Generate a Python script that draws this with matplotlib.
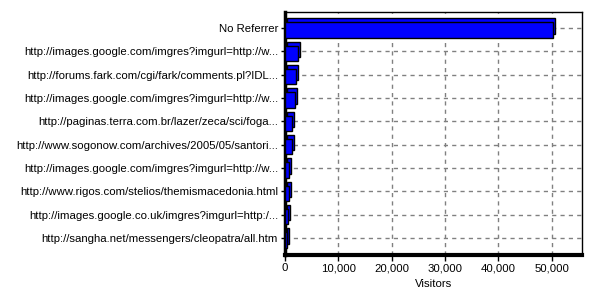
import matplotlib
matplotlib.use("Agg")
import matplotlib.pyplot as plt
import matplotlib.transforms as mtrans
from matplotlib.ticker import FuncFormatter

categories = [
    "No Referrer",
    "http://images.google.com/imgres?imgurl=http://w...",
    "http://forums.fark.com/cgi/fark/comments.pl?IDL...",
    "http://images.google.com/imgres?imgurl=http://w...",
    "http://paginas.terra.com.br/lazer/zeca/sci/foga...",
    "http://www.sogonow.com/archives/2005/05/santori...",
    "http://images.google.com/imgres?imgurl=http://w...",
    "http://www.rigos.com/stelios/themismacedonia.html",
    "http://images.google.co.uk/imgres?imgurl=http:/...",
    "http://sangha.net/messengers/cleopatra/all.htm",
]
visitors = [50300, 2500, 2150, 1800, 1300, 1350, 750, 800, 650, 300]
xticks = [0, 10000, 20000, 30000, 40000, 50000]

plt.rcParams['font.family'] = ['Liberation Sans', 'DejaVu Sans']
fig = plt.figure(figsize=(6, 3), dpi=100)
ax = fig.add_axes([285/600, 45/300, 297/600, 243/300])

y = list(range(len(categories)))
back = mtrans.offset_copy(ax.transData, fig=fig, x=2, y=2, units='dots')
front = mtrans.offset_copy(ax.transData, fig=fig, x=0, y=-2, units='dots')
ax.barh(y, visitors, height=0.66, color='#0000ff', edgecolor='black', linewidth=1, transform=back, zorder=3)
ax.barh(y, visitors, height=0.66, color='#0000ff', edgecolor='black', linewidth=1, transform=front, zorder=4)

ax.set_xlim(0, 55700)
ax.set_ylim(9.73, -0.69)
ax.set_yticks(y)
ax.set_yticklabels(categories, fontsize=8.2)
ax.set_xticks(xticks)
ax.xaxis.set_major_formatter(FuncFormatter(lambda v, p: f"{int(v):,}"))
ax.tick_params(axis='x', labelsize=8.2, length=4, width=1, direction='out', pad=2)
ax.tick_params(axis='y', length=3, width=1, direction='out', pad=2)
ax.grid(True, color='#808080', linestyle=(0, (3, 3)), linewidth=1, zorder=0)
ax.set_axisbelow(True)
ax.set_xlabel("Visitors", fontsize=8.2, labelpad=4)

ax.spines['left'].set_linewidth(2.5)
ax.spines['bottom'].set_linewidth(3)
ax.spines['right'].set_linewidth(1)
ax.spines['top'].set_linewidth(1)

fig.savefig("out.png", dpi=100, facecolor='white')
